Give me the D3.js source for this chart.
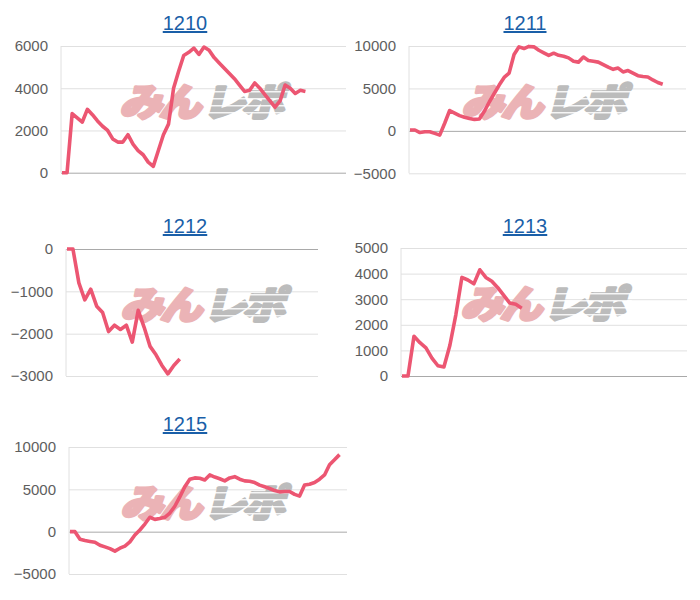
<!DOCTYPE html>
<html>
<head>
<meta charset="utf-8">
<script src="https://cdn.jsdelivr.net/npm/d3@7"></script>
<style>
  body { margin: 0; background: #fff; }
  svg { display: block; font-family: Arial, "Liberation Sans", sans-serif; }
</style>
</head>
<body>
<div id="chart"></div>
<script>
// machine numbers (panel titles)
const titles = ["1210", "1211", "1212", "1213", "1215"];

// coin difference per slot
const values1210 = [0, 0, 2800, 2600, 2400, 3000, 2750, 2450, 2200, 2000, 1600, 1450, 1450, 1800, 1350,
  1050, 850, 500, 300, 1050, 1800, 2300, 4000, 4800, 5550, 5700, 5900, 5600, 5950, 5800,
  5450, 5200, 4950, 4700, 4450, 4150, 3850, 3900, 4250, 4000, 3700, 3400, 3100, 3400, 4150,
  4000, 3750, 3900, 3850];
const values1211 = [100, 100, -200, -100, -100, -300, -500, 900, 2400, 2100, 1800, 1600, 1450, 1350, 1400,
  2300, 3400, 4400, 5400, 6300, 6800, 9000, 9900, 9700, 9950, 9900, 9500, 9200, 8900, 9150,
  8900, 8800, 8600, 8200, 8100, 8700, 8300, 8200, 8100, 7800, 7500, 7250, 7400, 6950, 7100,
  6800, 6500, 6400, 6350, 6000, 5700, 5500];
const values1212 = [0, 0, -800, -1200, -950, -1350, -1500, -1950, -1800, -1900, -1800, -2200, -1450, -1850,
  -2300, -2500, -2750, -2950, -2750, -2600];
const values1213 = [0, 0, 1550, 1300, 1100, 700, 400, 350, 1200, 2400, 3850, 3750, 3600, 4150, 3850,
  3700, 3450, 3150, 2850, 2800, 2650];
const values1215 = [0, 0, -900, -1050, -1150, -1250, -1600, -1800, -2000, -2300, -1950, -1700, -1200, -400, 200,
  900, 1700, 1450, 1550, 1700, 2200, 3000, 4100, 5300, 6200, 6350, 6300, 6100, 6700, 6450,
  6250, 6000, 6350, 6500, 6200, 6000, 5950, 5800, 5500, 5300, 5100, 4850, 4700, 4750, 4750,
  4400, 4200, 5500, 5600, 5800, 6200, 6700, 7900, 8500, 9100];

// y tick labels per panel
const ticks1210 = [0, 2000, 4000, 6000];
const ticks1211 = [-5000, 0, 5000, 10000];
const ticks1212 = [-3000, -2000, -1000, 0];
const ticks1213 = [0, 1000, 2000, 3000, 4000, 5000];
const ticks1215 = [-5000, 0, 5000, 10000];

const seriesList = [values1210, values1211, values1212, values1213, values1215];
const tickList   = [ticks1210, ticks1211, ticks1212, ticks1213, ticks1215];

// layout of each small chart (plot box in page px, x slots on the axis)
const layout = [
  { left: 61,  right: 346, top: 46,  bottom: 172.7, slots: 56,   titleX: 185, titleY: 30,  wmX: 199 },
  { left: 409, right: 686, top: 46,  bottom: 173.3, slots: 55.7, titleX: 525, titleY: 30,  wmX: 541 },
  { left: 66,  right: 318, top: 249, bottom: 376,   slots: 42.3, titleX: 185, titleY: 233, wmX: 200 },
  { left: 401, right: 687, top: 248, bottom: 376,   slots: 47.6, titleX: 525, titleY: 233, wmX: 540 },
  { left: 69,  right: 347, top: 447, bottom: 574,   slots: 55.5, titleX: 185, titleY: 431, wmX: 200 }
];

const width = 700, height = 600;

let svg = d3.select("#chart")
  .append("svg")
  .attr("width", width)
  .attr("height", height);

titles.forEach((title, k) => {
  let box    = layout[k],
      values = seriesList[k],
      ticks  = tickList[k];

  let x = d3.scaleLinear()
    .domain([0, box.slots])
    .range([box.left + 1, box.right]);

  let y = d3.scaleLinear()
    .domain(d3.extent(ticks))
    .range([box.bottom, box.top]);

  let g = svg.append("g");

  // title, a link in the original
  g.append("text")
    .attr("x", box.titleX)
    .attr("y", box.titleY)
    .attr("text-anchor", "middle")
    .attr("fill", "#1a5fa8")
    .attr("text-decoration", "underline")
    .style("font-size", "20px")
    .text(title);

  // gridlines + tick labels through d3.axisLeft
  let axis = g.append("g")
    .attr("transform", `translate(${box.left},0)`)
    .call(d3.axisLeft(y)
      .tickValues(ticks)
      .tickSize(-(box.right - box.left))
      .tickPadding(13)
      .tickFormat(d3.format("d")));

  axis.select(".domain").remove();
  axis.selectAll(".tick line")
    .attr("stroke", d => d === 0 ? "#a9a9a9" : "#e0e0e0")
    .attr("stroke-width", 1);
  axis.selectAll(".tick text")
    .attr("fill", "#5e5e5e")
    .style("font-size", "15px")
    .style("font-family", "Arial, 'Liberation Sans', sans-serif");

  // faint vertical axis
  g.append("line")
    .attr("x1", box.left).attr("x2", box.left)
    .attr("y1", box.top).attr("y2", box.bottom)
    .attr("stroke", "#e0e0e0");

  // watermark
  let cy = y.range()[1] + 70;
  let wm = g.append("g")
    .attr("transform", `translate(${box.wmX},${cy}) skewX(-14) scale(1.12,1)`)
    .style("font-family", "'Noto Sans CJK JP', sans-serif")
    .style("font-weight", 900)
    .style("font-size", "38px")
    .style("letter-spacing", "-3px");
  wm.append("text")
    .attr("x", -1)
    .attr("text-anchor", "end")
    .attr("fill", "#ebb3b6")
    .attr("stroke", "#ebb3b6")
    .attr("stroke-width", 3)
    .attr("stroke-linejoin", "round")
    .text("みん");
  wm.append("text")
    .attr("x", 3)
    .attr("text-anchor", "start")
    .attr("fill", "#bcbcbc")
    .attr("stroke", "#bcbcbc")
    .attr("stroke-width", 3)
    .attr("stroke-linejoin", "round")
    .text("レポ");
  // speed lines over the gray part
  [-25, -18, -11, -4].forEach(dy => {
    wm.append("rect")
      .attr("x", 2).attr("y", dy)
      .attr("width", 76).attr("height", 1.6)
      .attr("fill", "#fff")
      .attr("opacity", 0.85);
  });

  // the series line
  let line = d3.line()
    .x((d, i) => x(i))
    .y(d => y(d));

  g.append("path")
    .datum(values)
    .attr("fill", "none")
    .attr("stroke", "#ec5672")
    .attr("stroke-width", 3.6)
    .attr("stroke-linejoin", "round")
    .attr("d", line);
});
</script>
</body>
</html>
